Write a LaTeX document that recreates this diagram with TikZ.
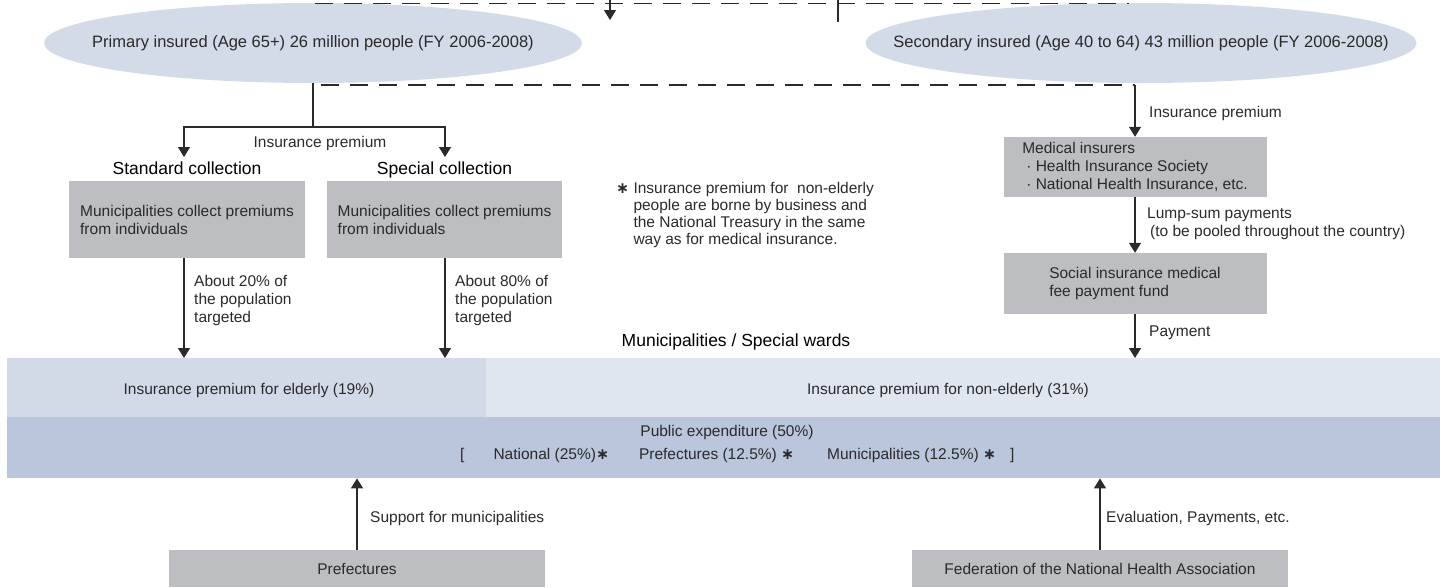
\documentclass[tikz,border=0pt]{standalone}
\usepackage{fontspec}
\setmainfont{Liberation Sans}
\newfontfamily\symfont{DejaVu Sans}
\definecolor{ellipse-blue}{HTML}{D3DBE8}
\definecolor{box-grey}{HTML}{BDBEC2}
\definecolor{elderly-blue}{HTML}{D3DAE7}
\definecolor{younger-blue}{HTML}{E0E6F0}
\definecolor{public-blue}{HTML}{BAC6DC}
\definecolor{ink}{HTML}{2A2A2A}
\usetikzlibrary{arrows.meta}
\usetikzlibrary{positioning}
\usetikzlibrary{shapes.geometric}
\newcommand{\nstar}{{\symfont\bfseries ∗}}

\begin{document}
\begin{tikzpicture}[%
    x=1pt,y=-1pt,
    every node/.style={text=ink,font=\fontsize{15.5}{18}\selectfont},
    insured/.style={%
      ellipse,
      fill=ellipse-blue,
      minimum height=80pt,
      inner sep=0pt,
    },
    insured text/.style={font=\fontsize{16.5}{18}\selectfont},
    office/.style={%
      fill=box-grey,
      align=left,
      inner sep=0pt,
    },
    band/.style={inner sep=0pt,anchor=north west},
    heading/.style={%
      font=\fontsize{17.5}{20}\selectfont,
      text=black,
      text height=13pt,
      text depth=4pt,
      inner sep=2pt,
    },
    remark/.style={align=left,anchor=west,inner sep=0pt},
    wire/.style={draw=ink,line width=1.4pt},
    link/.style={wire,-{Triangle[length=10pt,width=12pt]}},
    dashwire/.style={wire,dash pattern=on 18pt off 11pt},
  ]
  \useasboundingbox (0,0) rectangle (1440,587);

  % insured persons
  \node [insured,minimum width=538pt] (primary) at (313,43) {};
  \node [insured text] (primary text) at (primary)
    {Primary insured (Age 65+) 26 million people (FY 2006-2008)};
  \node [insured,minimum width=551pt] (secondary) at (1141,43) {};
  \node [insured text] (secondary text) at (secondary)
    {Secondary insured (Age 40 to 64) 43 million people (FY 2006-2008)};

  \coordinate (top west) at (315,3.5);
  \coordinate (top east) at (1129,3.5);
  \coordinate (top in) at (610,0);
  \coordinate (top in end) at (610,20);
  \coordinate (top out) at (838,0);
  \coordinate (top out end) at (838,22);
  \draw [dashwire] (top west) -- (top east);
  \draw [link] (top in) -- (top in end);
  \draw [wire] (top out) -- (top out end);

  % bands
  \node [band,fill=elderly-blue,minimum width=479pt,minimum height=59pt] (elderly) at (7,358) {};
  \node [band,fill=younger-blue,minimum width=954pt,minimum height=59pt] (younger) at (486,358) {};
  \node [band,fill=public-blue,minimum width=1433pt,minimum height=61pt] (public) at (7,417) {};
  \node (elderly text) at (249,390) {Insurance premium for elderly (19\%)};
  \node (younger text) at (948,390) {Insurance premium for non-elderly (31\%)};
  \node (public text) at (727,432) {Public expenditure (50\%)};
  \node [remark] (public shares) at (460,455)
    {[\hspace{29pt}National (25\%)\nstar\hspace{30pt}Prefectures (12.5\%) \nstar\hspace{33pt}Municipalities (12.5\%) \nstar\hspace{14pt}]};
  \node [heading] (wards) at (736,342) {Municipalities / Special wards};

  % primary insured
  \coordinate (split) at (313,127);
  \coordinate (premium west) at (321,85);
  \coordinate (premium east) at (1135,85);
  \coordinate (standard in) at (184,157);
  \coordinate (special in) at (445,157);
  \draw [dashwire] (premium west) -- (premium east);
  \draw [wire] (primary.south) -- (split);
  \draw [link] (split) -| (standard in);
  \draw [link] (split) -| (special in);
  \node (premium) at (320,143) {Insurance premium};

  \node [office,minimum width=236pt,minimum height=77pt] (standard box) at (187,219.5)
    {Municipalities collect premiums\\from individuals};
  \node [office,minimum width=235pt,minimum height=77pt] (special box) at (444.5,219.5)
    {Municipalities collect premiums\\from individuals};
  \node [heading,above=0pt of standard box] (standard) {Standard collection};
  \node [heading,above=0pt of special box] (special) {Special collection};

  \draw [link] (standard box.south -| standard in) -- (standard in |- elderly.north);
  \draw [link] (special box.south -| special in) -- (special in |- elderly.north);
  \node [remark] (standard share) at (194,300) {About 20\% of\\the population\\targeted};
  \node [remark] (special share) at (455,300) {About 80\% of\\the population\\targeted};

  \node [remark,font=\fontsize{15.5}{16.7}\selectfont] (footnote) at (616,215)
    {\nstar\ Insurance premium for \ non-elderly\\
     \phantom{\nstar\ }people are borne by business and\\
     \phantom{\nstar\ }the National Treasury in the same\\
     \phantom{\nstar\ }way as for medical insurance.};

  % secondary insured
  \node [office,minimum width=263pt,minimum height=60pt] (insurers) at (1135,167)
    {Medical insurers\\
     \hspace*{4pt}·\ Health Insurance Society\\
     \hspace*{4pt}·\ National Health Insurance, etc.};
  \draw [link] (premium east) -- (insurers.north);
  \node [remark] (upper premium) at (1149,113) {Insurance premium};

  \node [office,minimum width=263pt,minimum height=61pt] (fund) at (1135,283.5)
    {Social insurance medical\\fee payment fund};
  \draw [link] (insurers) -- (fund);
  \node [remark] (lump sum) at (1147,224)
    {Lump-sum payments\\\hspace*{3pt}(to be pooled throughout the country)};
  \draw [link] (fund) -- (fund.south |- younger.north);
  \node [remark] (payment) at (1149,333) {Payment};

  % support
  \node [office,minimum width=376pt,minimum height=37pt] (prefectures) at (357,568.5) {Prefectures};
  \node [office,minimum width=376pt,minimum height=37pt] (federation) at (1100,568.5)
    {Federation of the National Health Association};
  \draw [link] (prefectures.north) -- (prefectures.north |- public.south);
  \draw [link] (federation.north) -- (federation.north |- public.south);
  \node [remark] (support) at (370,518) {Support for municipalities};
  \node [remark] (evaluation) at (1106,518) {Evaluation, Payments, etc.};
\end{tikzpicture}
\end{document}
